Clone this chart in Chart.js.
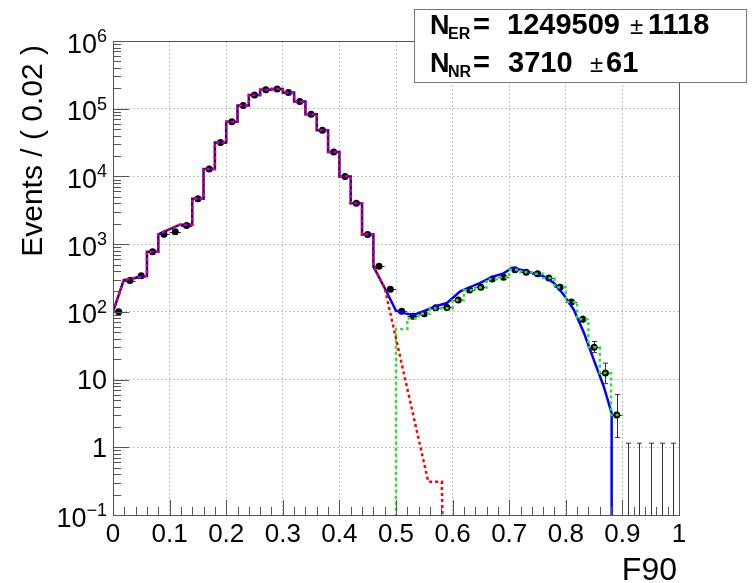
<!DOCTYPE html>
<html>
<head>
<meta charset="utf-8">
<script src="https://cdn.jsdelivr.net/npm/chart.js@4.4.0/dist/chart.umd.min.js"></script>
<style>
  html, body { margin: 0; padding: 0; background: #fff; }
</style>
</head>
<body>
<canvas id="c" width="752" height="583"></canvas>
<script>
// F90 bin centres (bin width 0.02)
const binCenters = [0.01, 0.03, 0.05, 0.07, 0.09, 0.11, 0.13, 0.15, 0.17, 0.19,
  0.21, 0.23, 0.25, 0.27, 0.29, 0.31, 0.33, 0.35, 0.37, 0.39,
  0.41, 0.43, 0.45, 0.47, 0.49, 0.51, 0.53, 0.55, 0.57, 0.59,
  0.61, 0.63, 0.65, 0.67, 0.69, 0.71, 0.73, 0.75, 0.77, 0.79,
  0.81, 0.83, 0.85, 0.87, 0.89, 0.91, 0.93, 0.95, 0.97, 0.99];

// events per bin (data points)
const counts = [100, 290, 340, 770, 1400, 1530, 1880, 4700, 12900, 31600,
  64000, 112000, 160000, 190000, 195000, 173000, 128000, 83000, 48000, 23000,
  10000, 4000, 1390, 470, 215, 102, 86, 94, 115, 116,
  150, 210, 230, 305, 325, 420, 385, 365, 315, 230,
  140, 78, 30, 12.5, 3, 0, 0, 0, 0, 0];

// error bars (down / up)
const errLow = [10, 17, 18, 28, 37, 39, 43, 69, 114, 178,
  253, 335, 400, 436, 442, 416, 358, 288, 219, 152,
  100, 63, 37, 22, 15, 10, 9, 10, 11, 11,
  12, 14, 15, 17, 18, 20, 20, 19, 18, 15,
  12, 9, 5, 3.8, 1.6, 0, 0, 0, 0, 0];
const errHigh = [10, 17, 18, 28, 37, 39, 43, 69, 114, 178,
  253, 335, 400, 436, 442, 416, 358, 288, 219, 152,
  100, 63, 37, 22, 15, 10, 10, 10, 11, 11,
  12, 15, 15, 18, 18, 21, 20, 19, 18, 15,
  12, 10, 6.5, 5, 3, 1.15, 1.15, 1.15, 1.15, 1.15];

// ER pdf (red dashed): rising head, stepped part for bins 0.14-0.46, falling tail
const erHeadX = [0, 0.019, 0.06, 0.06, 0.08, 0.08, 0.118, 0.14];
const erHeadY = [100, 295, 340, 770, 770, 1400, 1940, 1940];
const erStepFirstBin = 7;
const erLevels = [4700, 12900, 31600, 64000, 112000, 160000, 190000, 195000,
  173000, 128000, 83000, 48000, 23000, 10000, 4000, 1390];
const erTailX = [0.46, 0.48, 0.557, 0.581, 0.584];
const erTailY = [470, 225, 0.31, 0.31, 0.01];

// total model (blue) after the ER/NR crossing
const totTailX = [0.46, 0.48, 0.50, 0.516, 0.531, 0.549, 0.569, 0.590, 0.6135, 0.628,
  0.649, 0.670, 0.690, 0.705, 0.731, 0.761, 0.779, 0.796, 0.814, 0.832,
  0.849, 0.867, 0.881, 0.881];
const totTailY = [470, 225, 104, 95, 90, 102, 120, 135, 201, 226,
  268, 328, 370, 445, 400, 335, 268, 180, 108, 49,
  20, 7.9, 3.2, 0.01];

// NR pdf (green dashed), one level per bin from 0.50 to 0.90
const nrFirstBin = 25;
const nrLevels = [56, 80, 94, 112, 113, 148, 208, 228, 302, 322,
  420, 385, 365, 315, 230, 140, 78, 30, 12.5, 3];

const yDecades = [-1, 0, 1, 2, 3, 4, 5, 6];
const xTickLabels = ['0', '0.1', '0.2', '0.3', '0.4', '0.5', '0.6', '0.7', '0.8', '0.9', '1'];

const FONT = '"Liberation Sans", Arial, Helvetica, sans-serif';
const half = 0.01;

// build curves
const erSteps = [];
erLevels.forEach((v, k) => {
  const c = binCenters[erStepFirstBin + k];
  erSteps.push({ x: c - half, y: v }, { x: c + half, y: v });
});
const erHead = erHeadX.map((x, i) => ({ x, y: erHeadY[i] }));
const erCurve = erHead.concat(erSteps, erTailX.map((x, i) => ({ x, y: erTailY[i] })));
const totCurve = erHead.concat(erSteps, totTailX.map((x, i) => ({ x, y: totTailY[i] })));

const nrCurve = [{ x: binCenters[nrFirstBin] - half, y: 0.01 }];
nrLevels.forEach((v, k) => {
  const c = binCenters[nrFirstBin + k];
  nrCurve.push({ x: c - half, y: v }, { x: c + half, y: v });
});

const points = [];
binCenters.forEach((c, i) => { if (counts[i] > 0) points.push({ x: c, y: counts[i] }); });

const rootDecor = {
  id: 'rootDecor',
  beforeDatasetsDraw(chart) {
    const { ctx, chartArea: a } = chart;
    const xs = chart.scales.x, ys = chart.scales.y;
    ctx.save();
    ctx.beginPath();
    ctx.rect(a.left, a.top, a.right - a.left, a.bottom - a.top);
    ctx.clip();
    ctx.strokeStyle = '#333';
    ctx.lineWidth = 1;
    binCenters.forEach((c, i) => {
      const n = counts[i];
      const px = Math.round(xs.getPixelForValue(c)) + 0.5;
      const yHi = ys.getPixelForValue(n + errHigh[i]);
      const yLo = n - errLow[i] > 0 ? ys.getPixelForValue(n - errLow[i]) : a.bottom + 2;
      ctx.beginPath();
      ctx.moveTo(px, yLo);
      ctx.lineTo(px, yHi);
      if (yLo - yHi > 9) {
        ctx.moveTo(px - 2.5, yHi); ctx.lineTo(px + 2.5, yHi);
        if (n - errLow[i] > 0) { ctx.moveTo(px - 2.5, yLo); ctx.lineTo(px + 2.5, yLo); }
      }
      if (n > 0) {
        const py = Math.round(ys.getPixelForValue(n)) + 0.5;
        ctx.moveTo(xs.getPixelForValue(c - half), py);
        ctx.lineTo(xs.getPixelForValue(c + half), py);
      }
      ctx.stroke();
    });
    ctx.restore();
  },
  afterDraw(chart) {
    const { ctx, chartArea: a } = chart;
    const xs = chart.scales.x, ys = chart.scales.y;
    ctx.save();
    // frame
    ctx.strokeStyle = '#555';
    ctx.lineWidth = 1;
    ctx.strokeRect(Math.round(a.left) + 0.5, Math.round(a.top) + 0.5,
      Math.round(a.right - a.left), Math.round(a.bottom - a.top));
    // y ticks (inside)
    ctx.beginPath();
    yDecades.forEach(e => {
      for (let m = 1; m <= 9; m++) {
        const v = m * Math.pow(10, e);
        if (v > 1e6 + 1) break;
        const py = Math.round(ys.getPixelForValue(v)) + 0.5;
        ctx.moveTo(a.left, py);
        ctx.lineTo(a.left + (m === 1 ? 16 : 8), py);
      }
    });
    // x ticks (inside)
    for (let k = 0; k <= 50; k++) {
      const px = Math.round(xs.getPixelForValue(k * 0.02)) + 0.5;
      ctx.moveTo(px, a.bottom);
      ctx.lineTo(px, a.bottom - (k % 5 === 0 ? 15 : 8));
    }
    ctx.stroke();

    // y tick labels
    ctx.fillStyle = '#000';
    ctx.textBaseline = 'alphabetic';
    ctx.textAlign = 'right';
    const right = a.left - 6;
    yDecades.forEach(e => {
      const py = ys.getPixelForValue(Math.pow(10, e));
      if (e === 0 || e === 1) {
        ctx.font = '27px ' + FONT;
        ctx.fillText(e === 0 ? '1' : '10', right, py + 9.5);
      } else {
        const exp = e < 0 ? '\u2212' + (-e) : String(e);
        ctx.font = '18px ' + FONT;
        const we = ctx.measureText(exp).width;
        ctx.fillText(exp, right, py + 1);
        ctx.font = '27px ' + FONT;
        ctx.fillText('10', right - we, py + 11.5);
      }
    });
    // x tick labels
    ctx.textAlign = 'center';
    ctx.font = '26px ' + FONT;
    xTickLabels.forEach((t, k) => {
      ctx.fillText(t, xs.getPixelForValue(k / 10), a.bottom + 27);
    });
    // axis titles
    ctx.font = '32px ' + FONT;
    ctx.textAlign = 'right';
    ctx.fillText('F90', a.right - 2, a.bottom + 65);
    ctx.save();
    ctx.translate(42, a.top + 4);
    ctx.rotate(-Math.PI / 2);
    ctx.font = '30px ' + FONT;
    ctx.textAlign = 'right';
    ctx.fillText('Events / ( 0.02 )', 0, 0);
    ctx.restore();

    // fit result box
    ctx.fillStyle = '#fff';
    ctx.fillRect(414.5, 9.5, 332, 73);
    ctx.strokeStyle = '#777';
    ctx.strokeRect(414.5, 9.5, 332, 73);
    ctx.fillStyle = '#000';
    ctx.textAlign = 'left';
    const rows = [
      { sub: 'ER', val: '1249509', err: '1118', y: 33.5, valX: 507, pmX: 630, errX: 648 },
      { sub: 'NR', val: '3710', err: '61', y: 71.5, valX: 508, pmX: 590, errX: 606 }
    ];
    rows.forEach(r => {
      ctx.font = 'bold 27px ' + FONT;
      ctx.fillText('N', 430, r.y);
      ctx.font = 'bold 16px ' + FONT;
      ctx.fillText(r.sub, 448, r.y + 5);
      ctx.font = 'bold 29px ' + FONT;
      ctx.fillText('=', 473, r.y);
      ctx.fillText(r.val, r.valX, r.y);
      ctx.font = '24px ' + FONT;
      ctx.fillText('\u00b1', r.pmX, r.y);
      ctx.font = 'bold 29px ' + FONT;
      ctx.fillText(r.err, r.errX, r.y);
    });
    ctx.restore();
  }
};

const gridColor = '#c4c4c4';
new Chart(document.getElementById('c'), {
  type: 'scatter',
  data: {
    datasets: [
      { label: 'ER', type: 'line', data: erCurve, borderColor: '#ff0000', borderWidth: 2.5,
        borderDash: [3, 3], pointRadius: 0, tension: 0, order: 1 },
      { label: 'NR', type: 'line', data: nrCurve, borderColor: '#2de02d', borderWidth: 2.5,
        borderDash: [3, 3], pointRadius: 0, tension: 0, order: 2 },
      { label: 'total', type: 'line', data: totCurve, borderColor: '#0000ff', borderWidth: 2.5,
        pointRadius: 0, tension: 0, order: 3 },
      { label: 'data', data: points, pointRadius: 3.5, pointBackgroundColor: '#000',
        pointBorderColor: '#000', pointBorderWidth: 0, order: 4 }
    ]
  },
  options: {
    responsive: false,
    animation: false,
    events: [],
    layout: { padding: { left: 113, top: 41, right: 73, bottom: 68 } },
    plugins: { legend: { display: false }, tooltip: { enabled: false } },
    scales: {
      x: {
        type: 'linear', min: 0, max: 1,
        ticks: { display: false, stepSize: 0.1 },
        grid: {
          drawTicks: false,
          color: c => (c.tick && c.tick.value > 0.05 && c.tick.value < 0.95) ? gridColor : 'rgba(0,0,0,0)'
        },
        border: { display: false, dash: [2, 2] }
      },
      y: {
        type: 'logarithmic', min: 0.1, max: 1e6,
        ticks: { display: false },
        grid: {
          drawTicks: false,
          color: c => {
            if (!c.tick) return 'rgba(0,0,0,0)';
            const l = Math.log10(c.tick.value);
            const major = Math.abs(l - Math.round(l)) < 1e-6;
            return (major && l > -0.5 && l < 5.5) ? gridColor : 'rgba(0,0,0,0)';
          }
        },
        border: { display: false, dash: [2, 2] }
      }
    }
  },
  plugins: [rootDecor]
});
</script>
</body>
</html>
